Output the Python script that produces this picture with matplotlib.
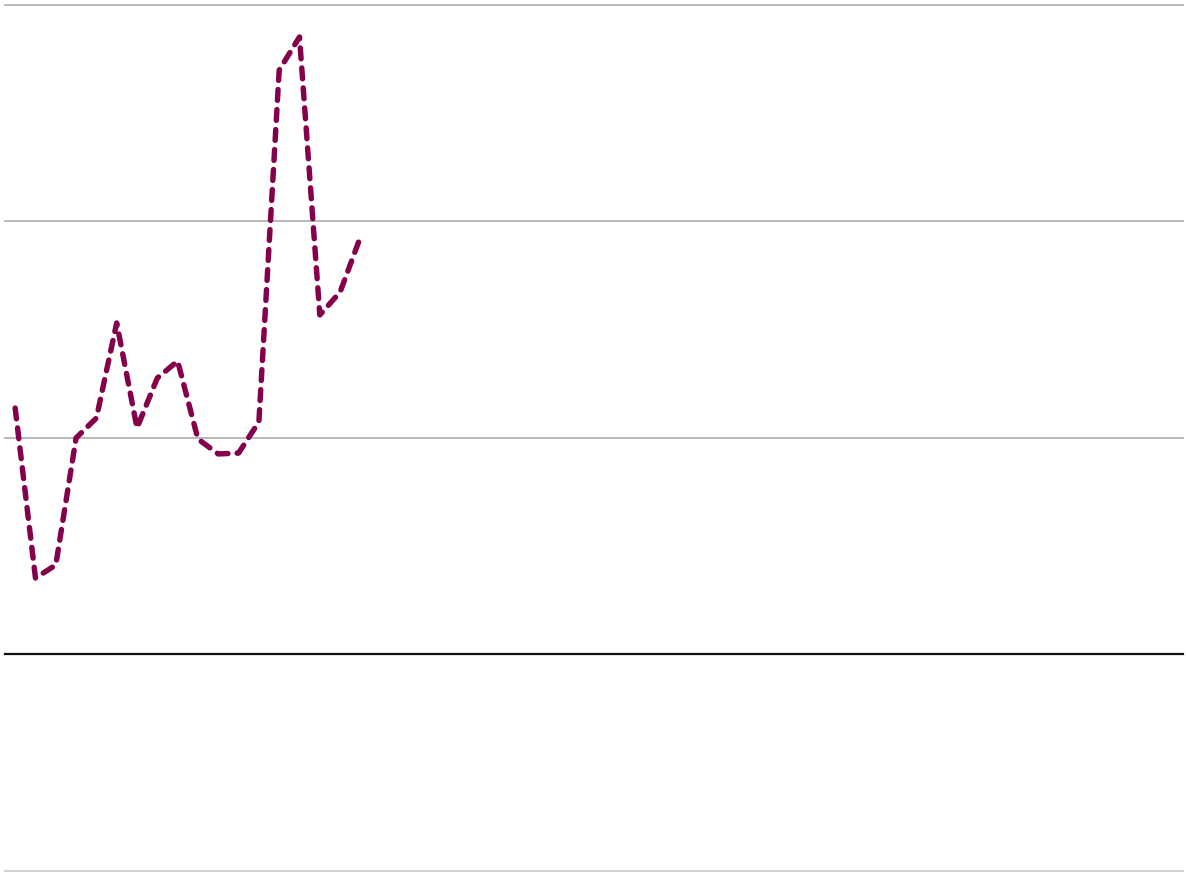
import matplotlib
matplotlib.use("Agg")
import matplotlib.pyplot as plt

# series values (one per period), remaining periods are empty
values = [1.136, 0.351, 0.411, 0.998, 1.090, 1.529, 1.044, 1.275, 1.353,
          0.993, 0.924, 0.928, 1.072, 2.697, 2.850, 1.566, 1.672, 1.926]
n_periods = 58
grid_levels = [-1, 1, 2, 3]
zero_level = 0

fig = plt.figure(figsize=(11.86, 8.75), dpi=100)
ax = fig.add_axes([5 / 1186, 4.5 / 875, 1178 / 1186, 866 / 875])
ax.set_xlim(-0.5, n_periods - 0.5)
ax.set_ylim(-1, 3)
ax.axis("off")

for level in grid_levels:
    color = "#cccccc" if level < 0 else "#b3b3b3"
    ax.axhline(level, color=color, linewidth=1.3, clip_on=False, zorder=1)
ax.axhline(zero_level, color="#111111", linewidth=1.6, clip_on=False, zorder=1)

ax.plot(range(len(values)), values, color="#85004b", linewidth=3.9,
        linestyle=(0, (2.0, 1.7)), dash_capstyle="round", zorder=3)

fig.savefig("out.png", dpi=100)
